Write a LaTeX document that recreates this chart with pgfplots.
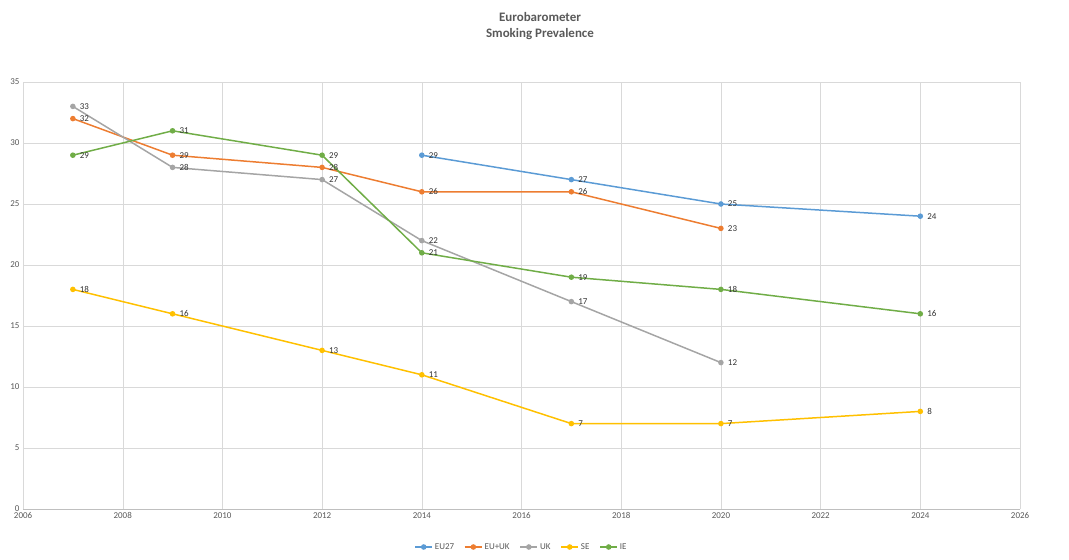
\documentclass[border=0pt]{standalone}
\usepackage{pgfplots}
\pgfplotsset{compat=1.18}
\usepackage{fontspec}
\setmainfont{Carlito}
\definecolor{cEU}{HTML}{5B9BD5}
\definecolor{cEUUK}{HTML}{ED7D31}
\definecolor{cUK}{HTML}{A5A5A5}
\definecolor{cSE}{HTML}{FFC000}
\definecolor{cIE}{HTML}{70AD47}
\definecolor{txt}{HTML}{595959}
\begin{document}
\begin{tikzpicture}
\useasboundingbox (0,0) rectangle (1069bp,560bp);
\node[font=\bfseries\fontsize{13}{16}\selectfont, text=txt, align=center] at (540bp,534bp) {Eurobarometer\\Smoking Prevalence};
\begin{axis}[at={(23bp,51bp)}, anchor=south west, scale only axis,
 width=997bp, height=427bp, xmin=2006, xmax=2026, ymin=0, ymax=35,
 xtick distance=2, ytick distance=5,
 /pgf/number format/1000 sep={}, /pgf/number format/assume math mode=true,
 grid=major, grid style={draw=black!15},
 axis x line=bottom, axis y line=left,
 x axis line style={draw=black!25, -}, y axis line style={draw=none, -},
 major tick length=0pt,
 ticklabel style={font=\fontsize{9}{11}\selectfont, text=txt},
 every axis plot/.append style={line width=1.5pt, mark=*, mark size=2pt},
 nodes near coords, nodes near coords style={anchor=west, font=\fontsize{9}{11}\selectfont, text=black!80, xshift=3pt},
 legend style={at={(0.5,-0.089)}, anchor=center, draw=none, font=\fontsize{9}{11}\selectfont, text=txt, legend columns=-1, /tikz/every even column/.style={column sep=8pt}},
 legend image code/.code={\draw[#1] (0cm,0cm) -- (0.6cm,0cm); \draw[#1,mark repeat=2,mark phase=2] plot coordinates {(0cm,0cm) (0.3cm,0cm) (0.6cm,0cm)};},
 clip=false]
\addplot[color=cEU] coordinates {(2014,29) (2017,27) (2020,25) (2024,24)};
\addlegendentry{EU27}
\addplot[color=cEUUK] coordinates {(2007,32) (2009,29) (2012,28) (2014,26) (2017,26) (2020,23)};
\addlegendentry{EU+UK}
\addplot[color=cUK] coordinates {(2007,33) (2009,28) (2012,27) (2014,22) (2017,17) (2020,12)};
\addlegendentry{UK}
\addplot[color=cSE] coordinates {(2007,18) (2009,16) (2012,13) (2014,11) (2017,7) (2020,7) (2024,8)};
\addlegendentry{SE}
\addplot[color=cIE] coordinates {(2007,29) (2009,31) (2012,29) (2014,21) (2017,19) (2020,18) (2024,16)};
\addlegendentry{IE}
\end{axis}
\end{tikzpicture}
\end{document}
